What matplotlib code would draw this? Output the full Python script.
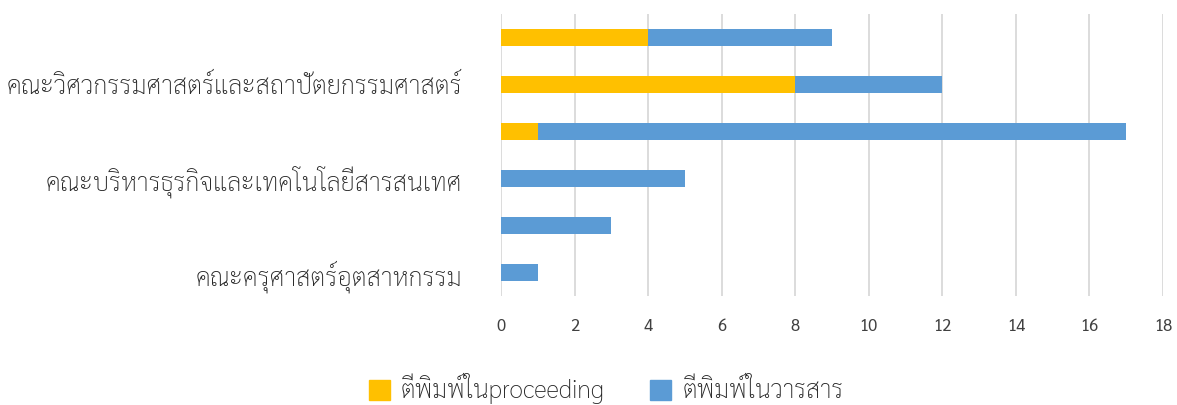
import matplotlib
matplotlib.use("Agg")
import matplotlib.pyplot as plt
from matplotlib.patches import Patch
import numpy as np

plt.rcParams['font.family'] = ['Sarabun', 'DejaVu Sans']

# categories bottom to top (only every other label shown in the original)
labels = ['คณะครุศาสตร์อุตสาหกรรม', '', 'คณะบริหารธุรกิจและเทคโนโลยีสารสนเทศ', '',
          'คณะวิศวกรรมศาสตร์และสถาปัตยกรรมศาสตร์', '']
proceeding = [0, 0, 0, 1, 8, 4]
journal = [1, 3, 5, 16, 4, 5]
ticks = [0, 2, 4, 6, 8, 10, 12, 14, 16, 18]

c_proc = '#FFC000'
c_jour = '#5B9BD5'

fig = plt.figure(figsize=(11.77, 4.05), dpi=100)
ax = fig.add_axes([0.4257, 0.269, 0.5624, 0.6964])

y = np.arange(len(labels))
ax.barh(y, proceeding, height=0.38, color=c_proc, zorder=3)
ax.barh(y, journal, left=proceeding, height=0.38, color=c_jour, zorder=3)

ax.set_xlim(0, 18)
ax.set_ylim(-0.5, len(labels) - 0.5)
ax.set_xticks(ticks)
ax.set_yticks(y)
ax.set_yticklabels(labels, fontsize=18.3, color='#262626', fontweight='light', va='bottom')
for t in ax.get_yticklabels():
    t.set_va('center_baseline')
ax.tick_params(axis='x', length=0, pad=16, labelsize=12, labelcolor='#404040')
ax.tick_params(axis='y', length=0, pad=28)
ax.grid(axis='x', color='#D9D9D9', linewidth=1.3, zorder=0)
for s in ax.spines.values():
    s.set_visible(False)

handles = [Patch(color=c_proc, label='ตีพิมพ์ในproceeding'),
           Patch(color=c_jour, label='ตีพิมพ์ในวารสาร')]
leg = fig.legend(handles=handles, loc='center', bbox_to_anchor=(0.515, 0.04), ncol=2,
                 frameon=False, prop={'size': 18, 'weight': 'light'},
                 handlelength=0.85, handleheight=0.85,
                 columnspacing=1.8, handletextpad=0.45, labelcolor='#262626')

fig.savefig('out.png', dpi=100)
